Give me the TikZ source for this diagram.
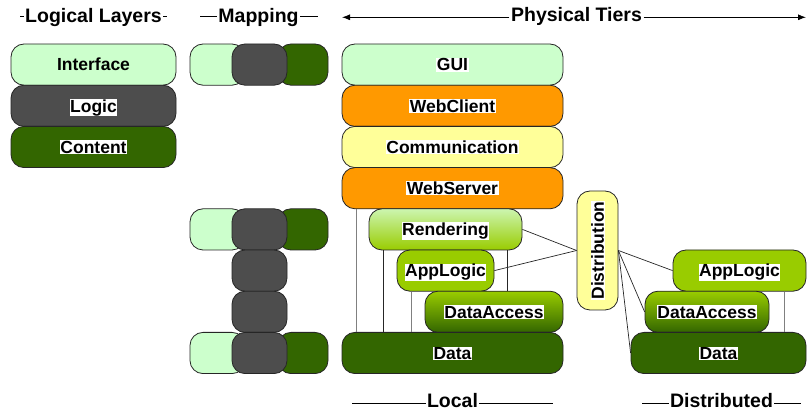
\documentclass[tikz,border=0pt]{standalone}
\usepackage{fontspec}
\setmainfont{Liberation Sans}
\usetikzlibrary{arrows.meta}
\definecolor{lgreen}{HTML}{CCFFCC}
\definecolor{dgray}{HTML}{4D4D4D}
\definecolor{dgreen}{HTML}{336600}
\definecolor{orng}{HTML}{FF9900}
\definecolor{ylw}{HTML}{FFFF99}
\definecolor{lime}{HTML}{99CC00}
\definecolor{rtop}{HTML}{CCF5B0}
\newcommand\wbx[1]{{\setlength{\fboxsep}{0.6pt}\colorbox{white}{#1}}}
\newcommand\lblfont{\fontsize{17.5}{20}\selectfont\bfseries}
\newcommand\ttlfont{\fontsize{19.5}{22}\selectfont\bfseries}
\tikzset{
  box/.style={draw=black!85, line width=0.8pt, rounded corners=13pt, inner sep=0pt,
    font=\lblfont, text height=12.6pt, text depth=0pt, minimum height=41.2pt},
  ttl/.style={font=\ttlfont, anchor=base, fill=white, inner xsep=1.5pt, inner ysep=1pt},
  rule/.style={line width=0.8pt, black},
  conn/.style={line width=0.7pt, black!85},
  gconn/.style={line width=0.9pt, black!50},
}
\begin{document}
\begin{tikzpicture}[x=1pt,y=-1pt]
\useasboundingbox (0,0) rectangle (807,411);

% ---------- titles ----------
\coordinate (llL) at (20,16); \coordinate (llR) at (167,16);
\draw[rule] (llL) -- (llR);
\node[ttl] (ll) at (93.5,22.5) {Logical Layers};

\coordinate (mpL) at (200,16); \coordinate (mpR) at (318,16);
\draw[rule] (mpL) -- (mpR);
\node[ttl] (mp) at (258.5,22.5) {Mapping};

\node[ttl] (pt) at (576.5,22) {Physical Tiers};
\coordinate (ptL) at (342,17.3); \coordinate (ptR) at (806,17.3);
\draw[rule,-{Latex[length=8pt,width=6pt]}] (pt.west |- ptL) -- (ptL);
\draw[rule,-{Latex[length=8pt,width=6pt]}] (pt.east |- ptR) -- (ptR);

\coordinate (loL) at (352,403); \coordinate (loR) at (553,403);
\draw[rule] (loL) -- (loR);
\node[ttl] (lo) at (452.5,408) {Local};

\coordinate (diL) at (642,403); \coordinate (diR) at (801,403);
\draw[rule] (diL) -- (diR);
\node[ttl] (di) at (721.5,408) {Distributed};

% ---------- logical layers ----------
\node[box, fill=lgreen, minimum width=165pt] (interface) at (93.5,64.6) {Interface};
\node[box, fill=dgray, minimum width=165pt] (logic) at (93.5,105.8) {\wbx{Logic}};
\node[box, fill=dgreen, minimum width=165pt] (content) at (93.5,147) {\wbx{Content}};

% ---------- mapping ----------
\node[box, fill=lgreen, minimum width=55pt] (m1a) at (217.5,64.6) {};
\node[box, fill=dgreen, minimum width=50pt] (m1c) at (303,64.6) {};
\node[box, fill=dgray, minimum width=55pt] (m1b) at (259.5,64.6) {};

\node[box, fill=lgreen, minimum width=55pt] (m2a) at (217.5,229.4) {};
\node[box, fill=dgreen, minimum width=50pt] (m2c) at (303,229.4) {};
\node[box, fill=dgray, minimum width=55pt] (m2b) at (259.5,229.4) {};
\node[box, fill=dgray, minimum width=55pt] (m3b) at (259.5,270.6) {};
\node[box, fill=dgray, minimum width=55pt] (m4b) at (259.5,311.8) {};
\node[box, fill=lgreen, minimum width=55pt] (m5a) at (217.5,353) {};
\node[box, fill=dgreen, minimum width=50pt] (m5c) at (303,353) {};
\node[box, fill=dgray, minimum width=55pt] (m5b) at (259.5,353) {};

% ---------- physical tiers, local ----------
\node[box, fill=lgreen, minimum width=221pt] (gui) at (452.5,64.6) {\wbx{GUI}};
\node[box, fill=orng, minimum width=221pt] (webclient) at (452.5,105.8) {\wbx{WebClient}};
\node[box, fill=ylw, minimum width=221pt] (comm) at (452.5,147) {\wbx{Communication}};
\node[box, fill=orng, minimum width=221pt] (webserver) at (452.5,188.2) {\wbx{WebServer}};

\node[box, top color=rtop, bottom color=lime, minimum width=153pt] (rendering) at (445.5,229.4) {\wbx{Rendering}};
\node[box, fill=lime, minimum width=97pt] (applogic) at (445.5,270.6) {\wbx{AppLogic}};
\node[box, top color=lime, bottom color=dgreen, minimum width=138pt] (dataaccess) at (494,311.8) {\wbx{DataAccess}};
\node[box, fill=dgreen, minimum width=221pt] (data) at (452.5,353) {\wbx{Data}};

\coordinate (v1) at (356,0); \coordinate (v2) at (383,0);
\coordinate (v3) at (411,0); \coordinate (v4) at (507,0);
\draw[gconn] (v1 |- webserver.south) -- (v1 |- data.north);
\draw[conn] (v2 |- rendering.south) -- (v2 |- data.north);
\draw[gconn] (v3 |- applogic.south) -- (v3 |- data.north);
\draw[conn] (v4 |- rendering.south) -- (v4 |- dataaccess.north);

% ---------- distribution ----------
\node[box, fill=ylw, rotate=90, minimum width=119pt, minimum height=41pt] (dist) at (597.5,250.5) {\wbx{Distribution}};

% ---------- distributed ----------
\node[box, fill=lime, minimum width=133pt] (applogic2) at (739.5,270.6) {\wbx{AppLogic}};
\node[box, top color=lime, bottom color=dgreen, minimum width=124pt] (dataaccess2) at (707,311.8) {\wbx{DataAccess}};
\node[box, fill=dgreen, minimum width=175pt] (data2) at (718.5,353) {\wbx{Data}};

\coordinate (v5) at (784,0);
\draw[gconn] (v5 |- applogic2.south) -- (v5 |- data2.north);

% ---------- distribution connectors ----------
\draw[conn] (rendering.east) -- (dist.north);
\draw[conn] (applogic.east) -- (dist.north);
\draw[conn] (dist.south) -- (applogic2.west);
\draw[conn] (dist.south) -- (dataaccess2.west);
\draw[conn] (dist.south) -- (data2.west);
\end{tikzpicture}
\end{document}
